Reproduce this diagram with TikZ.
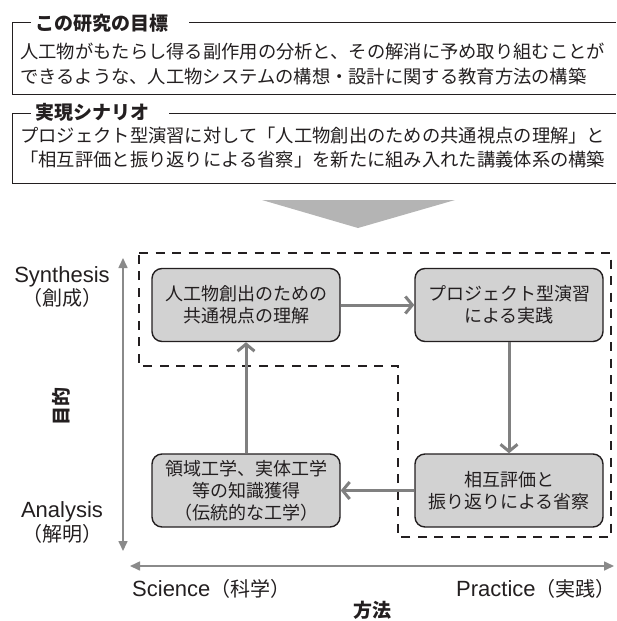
\documentclass[tikz,border=0pt]{standalone}
\usepackage{fontspec}
\setmainfont{Liberation Sans}
\newfontfamily\jp{Noto Sans CJK JP}
\usetikzlibrary{arrows.meta}
\definecolor{ink}{HTML}{231F20}
\definecolor{boxfill}{HTML}{D2D2D2}
\definecolor{arrgray}{HTML}{808080}
\definecolor{axgray}{HTML}{8A8A8A}
\definecolor{chevgray}{HTML}{B4B4B4}
\tikzset{
  procbox/.style={draw=ink, line width=1.4pt, fill=boxfill, rounded corners=10pt,
    minimum width=188pt, minimum height=73pt, align=center, text=ink,
    font=\jp\fontsize{18}{22}\selectfont, inner sep=0pt},
  conn/.style={draw=arrgray, line width=3pt, -{Straight Barb[length=7pt,width=17pt]}},
  axis/.style={draw=axgray, line width=1.6pt, {Triangle[length=10pt,width=9pt]}-{Triangle[length=10pt,width=9pt]}},
  frameline/.style={draw=ink, line width=0.9pt},
  dashframe/.style={draw=ink, line width=1.3pt, dash pattern=on 9pt off 7.5pt},
  bodytext/.style={anchor=west, inner sep=0pt, text=ink, font=\jp\fontsize{18.3}{22}\selectfont},
  titletext/.style={anchor=west, inner sep=0pt, text=ink, font=\jp\bfseries\fontsize{19}{22}\selectfont},
  latlabel/.style={inner sep=0pt, text=ink, font=\fontsize{22}{24}\selectfont},
  jplabel/.style={inner sep=0pt, text=ink, font=\jp\fontsize{20}{22}\selectfont},
  axtitle/.style={inner sep=0pt, text=ink, font=\jp\bfseries\fontsize{19}{22}\selectfont}
}
\begin{document}
\begin{tikzpicture}[x=1pt,y=-1pt]
\useasboundingbox (0,0) rectangle (616,621);

% --- top frame 1
\draw[frameline] (31,22) -- (12,22) -- (12,94) -- (616,94);
\draw[frameline] (189,22) -- (616,22);
\node[titletext] (t1) at (35,23) {この研究の目標};
\node[bodytext] (l1) at (20,52) {人工物がもたらし得る副作用の分析と、その解消に予め取り組むことが};
\node[bodytext] (l2) at (20,77) {できるような、人工物システムの構想・設計に関する教育方法の構築};

% --- top frame 2
\draw[frameline] (31,113) -- (12,113) -- (12,183) -- (616,183);
\draw[frameline] (169,113) -- (616,113);
\node[titletext] (t2) at (35,112) {実現シナリオ};
\node[bodytext] (l3) at (20,136) {プロジェクト型演習に対して「人工物創出のための共通視点の理解」と};
\node[bodytext] (l4) at (20,160) {「相互評価と振り返りによる省察」を新たに組み入れた講義体系の構築};

% --- chevron
\fill[chevgray] (262,200) -- (455,200) -- (358,228) -- cycle;

% --- dashed frame
\draw[dashframe] (139,253) -- (611,253) -- (611,537) -- (398,537) -- (398,366) -- (139,366) -- cycle;

% --- boxes
\node[procbox] (b1) at (246,305) {人工物創出のための\\共通視点の理解};
\node[procbox] (b2) at (509,305) {プロジェクト型演習\\による実践};
\node[procbox] (b3) at (246,490.5) {領域工学、実体工学\\等の知識獲得\\（伝統的な工学）};
\node[procbox] (b4) at (509,490.5) {相互評価と\\振り返りによる省察};

\draw[conn] (b1.east) -- (b2.west);
\draw[conn] (b2.south) -- (b4.north);
\draw[conn] (b4.west) -- (b3.east);
\draw[conn] (b3.north) -- (b1.south);

% --- axes
\coordinate (vt) at (123,258);
\coordinate (vb) at (123,551);
\coordinate (hl) at (130,566);
\coordinate (hr) at (614,566);
\draw[axis] (vb) -- (vt);
\draw[axis] (hl) -- (hr);

% --- axis labels
\node[latlabel] (syn) at (62,277) {Synthesis};
\node[jplabel] (synj) at (62,298) {（創成）};
\node[latlabel] (ana) at (62,512) {Analysis};
\node[jplabel] (anaj) at (62,534) {（解明）};
\node[axtitle, rotate=90] (purpose) at (61,406) {目的};
\node[latlabel, anchor=west] (sci) at (132,589) {Science{\jp\fontsize{20}{22}\selectfont （科学）}};
\node[latlabel, anchor=west] (prac) at (456,589) {Practice{\jp\fontsize{20}{22}\selectfont （実践）}};
\node[axtitle] (method) at (372,610.5) {方法};
\end{tikzpicture}
\end{document}
